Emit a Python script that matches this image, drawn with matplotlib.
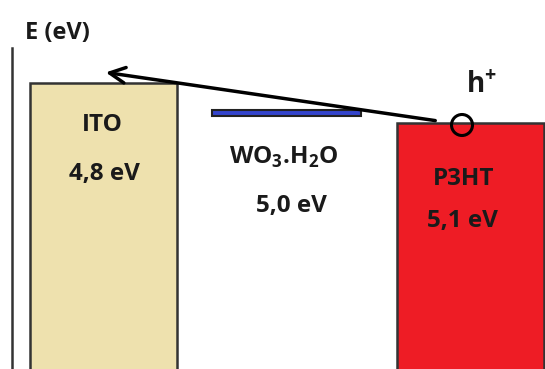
import matplotlib.pyplot as plt
from matplotlib.patches import Rectangle, Circle, FancyArrowPatch

# energy levels (work function / HOMO)
materials = ["ITO", "WO$_3$.H$_2$O", "P3HT"]
energies = ["4,8 eV", "5,0 eV", "5,1 eV"]
# level position on the drawing (pixels from top)
level_y = [83, 113, 123]

plt.rcParams['font.family'] = ['Open Sans', 'DejaVu Sans']
plt.rcParams['mathtext.fontset'] = 'custom'
plt.rcParams['mathtext.rm'] = 'Open Sans:bold'
plt.rcParams['mathtext.bf'] = 'Open Sans:bold'

fig = plt.figure(figsize=(5.45, 3.69), dpi=100)
ax = fig.add_axes([0, 0, 1, 1])
ax.set_xlim(0, 545)
ax.set_ylim(369, 0)
ax.axis('off')

# energy axis
ax.plot([12, 12], [48, 369], color='#333333', lw=1.8)
ax.text(25, 33, "E (eV)", fontsize=17, fontweight='bold', color='#1a1a1a',
        va='center', ha='left')

# ITO block
ax.add_patch(Rectangle((29.5, level_y[0]), 147, 369 - level_y[0] + 5,
                       facecolor='#EEE1AE', edgecolor='#333333', lw=1.8))
# WO3.H2O level
ax.add_patch(Rectangle((212, level_y[1] - 3), 149, 6,
                       facecolor='#3344CC', edgecolor='#222222', lw=1.5))
# P3HT block
ax.add_patch(Rectangle((396.5, level_y[2]), 147, 369 - level_y[2] + 5,
                       facecolor='#EE1C25', edgecolor='#333333', lw=1.8))

# hole transfer
ax.add_patch(Circle((462, 125), 10.5, facecolor='none', edgecolor='black', lw=2.2))
arrow = FancyArrowPatch((438, 121), (103, 72), arrowstyle='->,head_length=7,head_width=3.5',
                        color='black', lw=2.5, mutation_scale=1.6)
ax.add_patch(arrow)
ax.text(466, 85, "h$^{\\mathbf{+}}$", fontsize=20, fontweight='bold', color='#1a1a1a',
        va='center', ha='left')

txt = dict(fontsize=17.5, fontweight='bold', color='#1a1a1a', ha='center', va='center')
ax.text(102, 125, materials[0], **txt)
ax.text(104, 174, energies[0], **txt)
ax.text(284, 157, materials[1], **txt)
ax.text(291, 206, energies[1], **txt)
ax.text(464, 179, materials[2], **txt)
ax.text(462, 221, energies[2], **txt)

fig.savefig('out.png', dpi=100)
